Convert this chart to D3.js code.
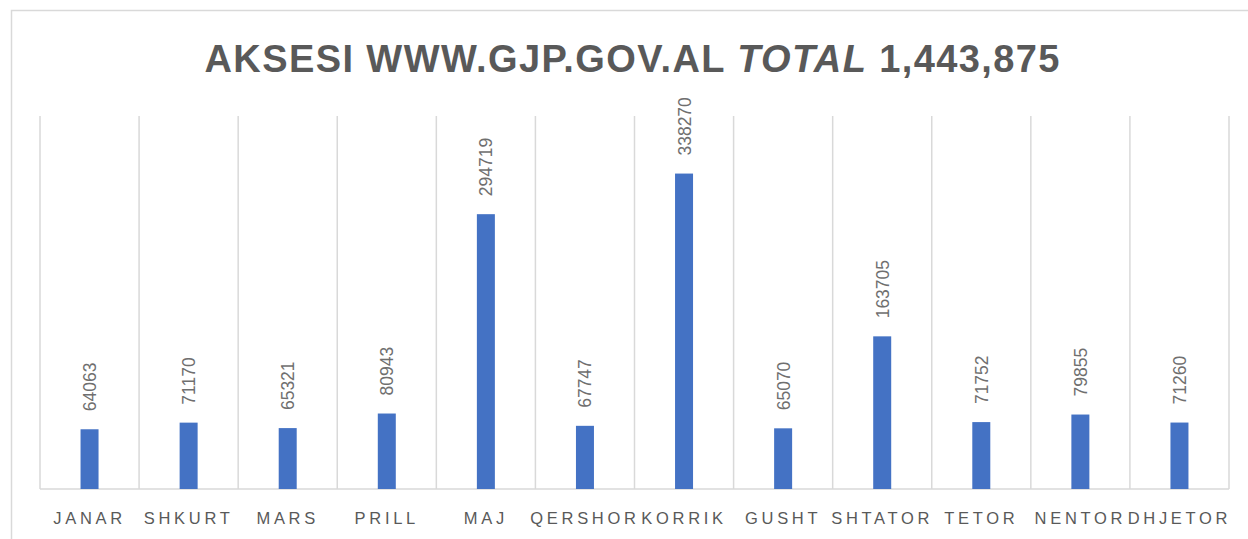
<!DOCTYPE html>
<html><head><meta charset="utf-8">
<script src="https://cdn.jsdelivr.net/npm/d3@7"></script>
<style>html,body{margin:0;padding:0;background:#fff;overflow:hidden}</style>
</head><body><svg id="c" width="1248" height="539"></svg>
<script>
const months = ["JANAR","SHKURT","MARS","PRILL","MAJ","QERSHOR","KORRIK","GUSHT","SHTATOR","TETOR","NENTOR","DHJETOR"];
const visits = [64063,71170,65321,80943,294719,67747,338270,65070,163705,71752,79855,71260];
const titleMain = "AKSESI WWW.GJP.GOV.AL ";
const titleItalic = "TOTAL";
const titleTotal = " 1,443,875";
const yMax = 400000;

(function(){
const svg = d3.select("#c");
const W = 1248, H = 539;
const pLeft = 40, pRight = 1229, pTop = 116, pBase = 489;

svg.append("path").attr("d", `M11.5,${H} L11.5,10.5 L${W},10.5`)
  .attr("fill","none").attr("stroke","#d9d9d9").attr("stroke-width",1.5);

const x = d3.scaleBand().domain(months).range([pLeft, pRight]).paddingInner(0).paddingOuter(0);
const y = d3.scaleLinear().domain([0, yMax]).range([pBase, pTop]);

const bounds = months.map(m => x(m)).concat([pRight]);
svg.append("g").selectAll("line").data(bounds).join("line")
  .attr("x1", d => d).attr("x2", d => d).attr("y1", pTop).attr("y2", pBase)
  .attr("stroke","#d9d9d9").attr("stroke-width",1.5);

const xAxis = d3.axisBottom(x).tickSize(0).tickPadding(0);
const ag = svg.append("g").attr("transform", `translate(0,${pBase})`).call(xAxis);
ag.select(".domain").attr("stroke","#d9d9d9").attr("stroke-width",1.5).attr("d", `M${pLeft},0H${pRight}`);
ag.selectAll(".tick text").attr("y", 34.5).attr("dy", null)
  .attr("font-family","Liberation Sans, Arial, sans-serif").attr("font-size",16.5)
  .attr("fill","#595959").style("letter-spacing","3.7px");

const bw = 18;
svg.append("g").selectAll("rect").data(visits).join("rect")
  .attr("x", (d,i) => x(months[i]) + x.bandwidth()/2 - bw/2)
  .attr("width", bw)
  .attr("y", d => y(d))
  .attr("height", d => pBase - y(d))
  .attr("fill","#4472c4");

svg.append("g").selectAll("text").data(visits).join("text")
  .attr("transform", (d,i) => `translate(${x(months[i]) + x.bandwidth()/2 + 6.5},${y(d) - 18}) rotate(-90)`)
  .attr("font-family","Liberation Sans, Arial, sans-serif").attr("font-size",17.5)
  .attr("fill","#6f6f6f").attr("text-anchor","start")
  .text(d => d);

const t = svg.append("text").attr("x", 632).attr("y", 72).attr("text-anchor","middle")
  .attr("font-family","'Liberation Sans Narrow', 'Arial Narrow', 'Liberation Sans', sans-serif").attr("font-size",38).attr("font-weight","bold")
  .attr("fill","#595959");
t.append("tspan").text(titleMain);
t.append("tspan").attr("font-style","italic").text(titleItalic);
t.append("tspan").text(titleTotal);
t.attr("textLength", 855).attr("lengthAdjust","spacing");
})();
</script></body></html>
